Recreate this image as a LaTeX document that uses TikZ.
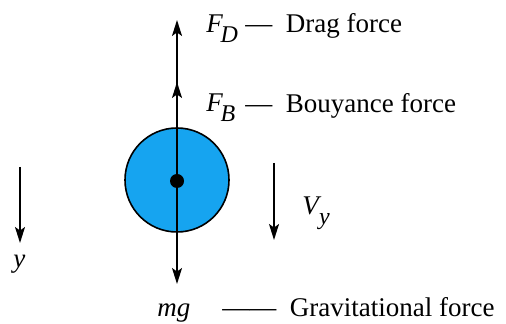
\documentclass[tikz,border=0pt]{standalone}
\usepackage{fontspec}
\setmainfont{Liberation Serif}
\usepackage{xcolor}
\definecolor{ballBlue}{RGB}{22, 164, 240}
\usepackage{tikz}
\usetikzlibrary{
    arrows.meta,
    positioning
}
\newcommand{\forceSym}[2]{\textit{#1}\kern-1.2pt\raisebox{-4.6pt}{\fontsize{12}{13}\selectfont\textit{#2}}}

\begin{document}
\begin{tikzpicture}[
    x=0.5pt, y=-0.5pt,
    ball/.style={
        circle, draw=black, line width=0.8pt,
        fill=ballBlue, minimum size=52pt, inner sep=0pt
    },
    centerDot/.style={
        circle, fill=black, minimum size=7pt, inner sep=0pt
    },
    forceArrow/.style={
        -{Stealth[length=8pt, width=5pt, inset=1.8pt]}, line width=0.9pt, draw=black
    },
    lbl/.style={
        font=\fontsize{13.5}{16}\selectfont, text=black, inner sep=0pt
    }
]
    \useasboundingbox (0,0) rectangle (506,324);

    % Particle
    \node[ball] (ball) at (177,180) {};
    \node[centerDot] (cm) at (177,181) {};

    % Free ends of the arrows
    \coordinate (fdTip) at (177,20);
    \coordinate (fbTip) at (177,82);
    \coordinate (mgTip) at (177,284);
    \coordinate (vTop) at (274,163);
    \coordinate (vTip) at (274,240);
    \coordinate (yTop) at (20,167);
    \coordinate (yTip) at (20,243);

    % Forces
    \draw[forceArrow] (cm) -- (fdTip);
    \draw[forceArrow] (cm) -- (fbTip);
    \draw[forceArrow] (cm) -- (mgTip);
    \draw[forceArrow] (vTop) -- (vTip);
    \draw[forceArrow] (yTop) -- (yTip);

    % Labels
    \node[lbl, anchor=base west] (fdSym) at (206,33) {\forceSym{F}{D}};
    \node[lbl, anchor=base west] (fdText) at (245,33) {\textemdash\ \ Drag force};
    \node[lbl, anchor=base west] (fbSym) at (206,112) {\forceSym{F}{B}};
    \node[lbl, anchor=base west] (fbText) at (245,113) {\textemdash\ \ Bouyance force};
    \node[lbl, anchor=base west] (vSym) at (302,215) {\forceSym{V}{y}};
    \node[lbl, anchor=base west] (yAxis) at (13,268) {\textit{y}};
    \node[lbl, anchor=base west] (mgSym) at (157,316) {\textit{mg}};
    \node[lbl, anchor=base west] (mgText) at (222,316) {\textemdash\textemdash\ \ Gravitational force};

\end{tikzpicture}
\end{document}
